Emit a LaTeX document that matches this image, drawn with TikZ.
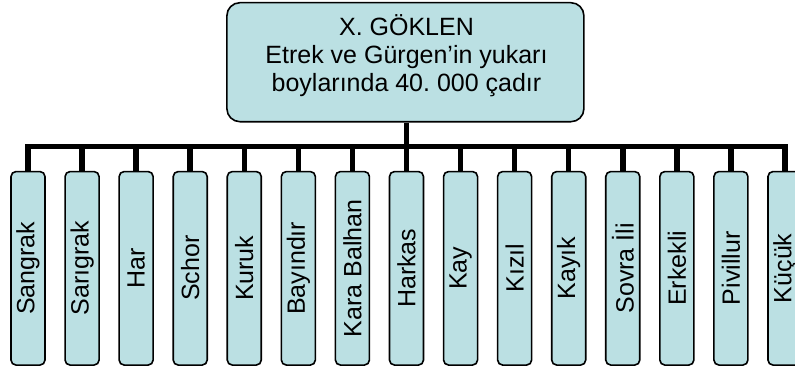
\documentclass[tikz,border=0pt]{standalone}
\usepackage{fontspec}
\setmainfont{Liberation Sans}
\definecolor{boxfill}{RGB}{187,224,227}
\frenchspacing
\begin{document}
\begin{tikzpicture}[x=1pt,y=-1pt,
  boxstyle/.style={draw=black, line width=1.6pt, fill=boxfill, inner sep=0pt},
  topbox/.style={boxstyle, rounded corners=13pt, minimum width=357pt, minimum height=119pt},
  childbox/.style={boxstyle, rotate=90, rounded corners=5pt, minimum width=193.5pt, minimum height=34pt,
    font=\fontsize{25}{28}\selectfont},
  toptextstyle/.style={align=center, anchor=north, inner sep=0pt, font=\fontsize{25}{27.8}\selectfont},
  wire/.style={line width=5.5pt, line join=miter, line cap=butt}]
\useasboundingbox (0,0) rectangle (795,369);
\node[topbox] (top) at (405.4,62.2) {};
\node[toptextstyle] (toptext) at (406.5,14.5) {X. GÖKLEN\\Etrek ve Gürgen’in yukarı\\boylarında 40. 000 çadır};
\coordinate (bus) at (0,146.3);
\foreach \t [count=\i from 0] in {Sangrak,Sarıgrak,Har,Schor,Kuruk,Bayındır,Kara Balhan,Harkas,Kay,Kızıl,Kayık,Sovra İli,Erkekli,Pivillur,Küçük}{
  \node[childbox] (c\i) at ({28+54.07*\i},268.3) {\t};
}
\draw[wire] (c0.east) -- (c0.east |- bus) -- (c14.east |- bus) -- (c14.east);
\foreach \i in {1,...,13}{
  \draw[wire] (c\i.east) -- (c\i.east |- bus);
}
\draw[wire] (c7.east |- top.south) -- (c7.east |- bus);
\end{tikzpicture}
\end{document}
